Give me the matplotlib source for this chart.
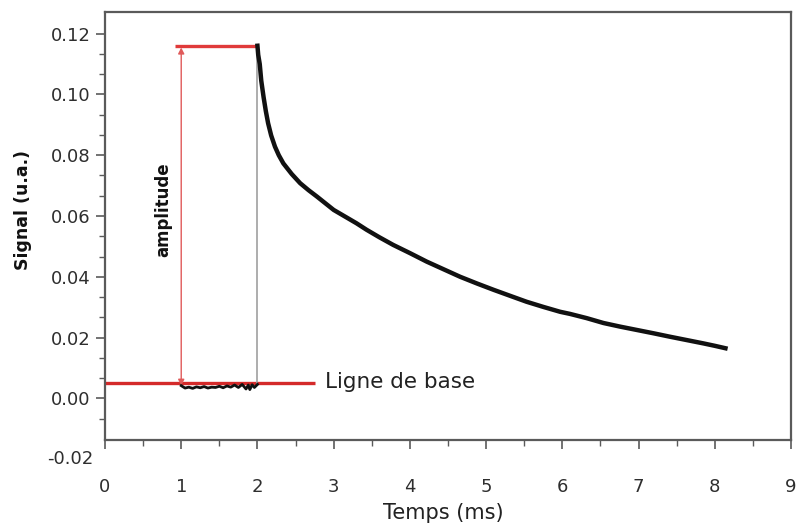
import matplotlib
matplotlib.use("Agg")
import matplotlib.pyplot as plt
from matplotlib.ticker import FixedLocator, FixedFormatter
import matplotlib.transforms as mtransforms

# ---------------- data ----------------
base_t = [1.00, 1.05, 1.10, 1.15, 1.20, 1.25, 1.30, 1.35, 1.40, 1.45, 1.50,
          1.55, 1.60, 1.65, 1.70, 1.75, 1.80, 1.85, 1.88, 1.90, 1.93, 1.96, 2.00]
base_s = [0.0042, 0.0034, 0.0037, 0.0033, 0.0038, 0.0035, 0.0039, 0.0034,
          0.0037, 0.0036, 0.0040, 0.0035, 0.0041, 0.0037, 0.0044, 0.0036,
          0.0046, 0.0031, 0.0044, 0.0029, 0.0045, 0.0036, 0.0046]

decay_t = [2.00, 2.01, 2.03, 2.05, 2.08, 2.11, 2.14, 2.18, 2.23, 2.28, 2.34,
           2.45, 2.56, 2.67, 2.78, 2.90, 3.00, 3.15, 3.30, 3.43, 3.60, 3.78,
           4.00, 4.22, 4.44, 4.66, 4.88, 5.10, 5.32, 5.53, 5.75, 5.97, 6.10,
           6.32, 6.54, 6.76, 6.98, 7.20, 7.41, 7.63, 7.85, 8.00, 8.14]
decay_s = [0.1160, 0.1130, 0.1100, 0.1045, 0.0992, 0.0945, 0.0905, 0.0865,
           0.0828, 0.0800, 0.0773, 0.0738, 0.0708, 0.0685, 0.0664, 0.0640,
           0.0620, 0.0598, 0.0576, 0.0555, 0.0530, 0.0505, 0.0478, 0.0450,
           0.0425, 0.0400, 0.0378, 0.0357, 0.0337, 0.0318, 0.0301, 0.0285,
           0.0278, 0.0264, 0.0248, 0.0236, 0.0225, 0.0214, 0.0203, 0.0192,
           0.0181, 0.0173, 0.0165]

amp_top = 0.1159
base_level = 0.0050
amp_x = 1.0
jump_x = 2.0
top_line_x = [0.92, 2.0]
base_line_x = [0.0, 2.76]

x_ticks = [0, 1, 2, 3, 4, 5, 6, 7, 8, 9]
x_minor = [0.5, 1.5, 2.5, 3.5, 4.5, 5.5, 6.5, 7.5, 8.5]
y_ticks = [0.00, 0.02, 0.04, 0.06, 0.08, 0.10, 0.12]
y_labels = ["0.00", "0.02", "0.04", "0.06", "0.08", "0.10", "0.12"]
y_minor = [-0.00667, 0.00667, 0.01333, 0.02667, 0.03333, 0.04667, 0.05333,
           0.06667, 0.07333, 0.08667, 0.09333, 0.10667, 0.11333]
y_extra_label = (-0.02, "-0.02")

# ---------------- figure ----------------
plt.rcParams['font.family'] = ['DejaVu Sans']
fig = plt.figure(figsize=(7.98, 5.27), dpi=100)
ax = fig.add_axes([105/798, 1 - 440/527, (791 - 105)/798, (440 - 12)/527])
ax.set_xlim(0, 9)
ax.set_ylim(-0.01368, 0.1271)

spine_c = '#5a5a5a'
for s in ax.spines.values():
    s.set_color(spine_c)
    s.set_linewidth(1.6)

ax.xaxis.set_major_locator(FixedLocator(x_ticks))
ax.xaxis.set_minor_locator(FixedLocator(x_minor))
ax.yaxis.set_major_locator(FixedLocator(y_ticks))
ax.yaxis.set_major_formatter(FixedFormatter(y_labels))
ax.yaxis.set_minor_locator(FixedLocator(y_minor))
ax.tick_params(axis='both', which='major', direction='out', length=6.5, width=1.2,
               color=spine_c, labelcolor='#2e2e2e', labelsize=13)
ax.tick_params(axis='both', which='minor', direction='out', length=4, width=1.0,
               color=spine_c)
ax.tick_params(axis='x', which='major', pad=21)
ax.tick_params(axis='y', which='major', pad=4)

# extra -0.02 label below the axis
trans = mtransforms.blended_transform_factory(ax.transAxes, ax.transData)
ax.text(-0.0175, y_extra_label[0], y_extra_label[1], transform=trans,
        ha='right', va='center', fontsize=13, color='#2e2e2e', clip_on=False)

# red reference lines
ax.plot(base_line_x, [base_level, base_level], color='#d42a2a', lw=2.4,
        solid_capstyle='butt', zorder=2)
ax.plot(top_line_x, [amp_top, amp_top], color='#e03a3a', lw=2.4,
        solid_capstyle='butt', zorder=2)

# gray vertical jump line
ax.vlines([jump_x], [base_s[-1]], [amp_top], color='#a0a0a0', lw=1.2, zorder=2)

# amplitude arrow
ax.annotate('', xy=(amp_x, amp_top - 0.0005), xytext=(amp_x, base_level - 0.0008),
            arrowprops=dict(arrowstyle='<|-|>,head_length=0.35,head_width=0.18',
                            color='#e05a5a', lw=1.0, shrinkA=0, shrinkB=0),
            zorder=3)

# signal
ax.plot(base_t, base_s, color='#111111', lw=2.0, zorder=4)
ax.plot(decay_t, decay_s, color='#111111', lw=3.2, zorder=4,
        solid_joinstyle='round')

# texts
ax.text(2.89, 0.0054, 'Ligne de base', fontsize=15.5, color='#222222',
        ha='left', va='center')
ax.text(0.765, 0.0622, 'amplitude', fontsize=12, fontweight='bold',
        rotation=90, ha='center', va='center', color='#111111')
fig.text(23/798, 1 - 210/527, 'Signal (u.a.)', fontsize=12.5, fontweight='bold',
         rotation=90, ha='center', va='center', color='#111111')
fig.text(443/798, 1 - 513/527, 'Temps (ms)', fontsize=15, color='#222222',
         ha='center', va='center')

fig.savefig('out.png', dpi=100)
